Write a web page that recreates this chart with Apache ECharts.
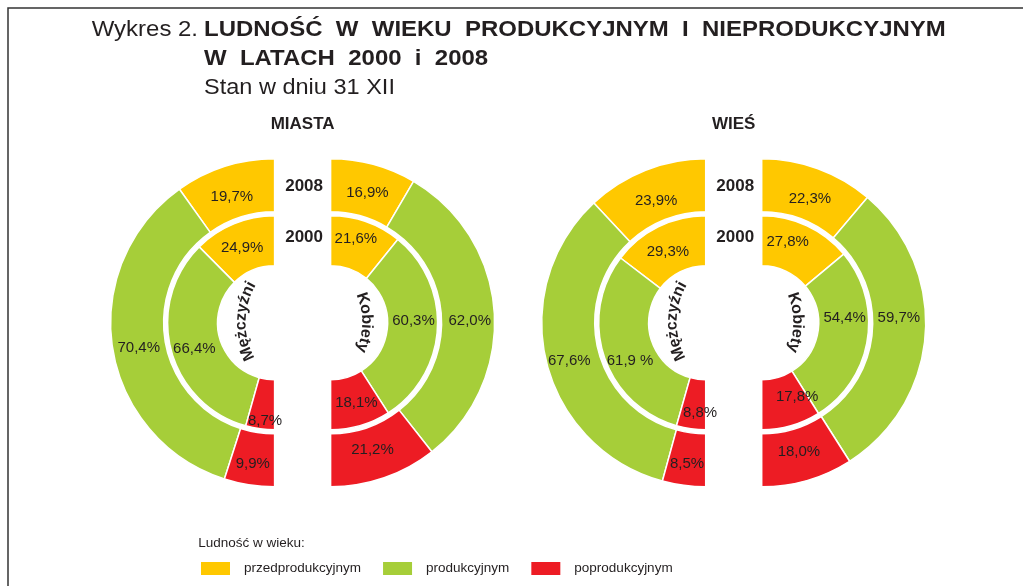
<!DOCTYPE html>
<html><head><meta charset="utf-8">
<script src="https://cdn.jsdelivr.net/npm/echarts@6/dist/echarts.min.js"></script>
<style>html,body{margin:0;padding:0;background:#fff}#c{width:1023px;height:586px}</style>
</head><body><div id="c"></div>
<script>
// ---- data ----
const categories = ['przedprodukcyjnym', 'produkcyjnym', 'poprodukcyjnym'];
const groupNames = ['MIASTA', 'WIEŚ'];
const yearLabels = ['2008', '2000'];
const sexLabels = ['Mężczyźni', 'Kobiety'];
const miastaMen2008 = [19.7, 70.4, 9.9];
const miastaMen2000 = [24.9, 66.4, 8.7];
const miastaWomen2008 = [16.9, 62.0, 21.2];
const miastaWomen2000 = [21.6, 60.3, 18.1];
const wiesMen2008 = [23.9, 67.6, 8.5];
const wiesMen2000 = [29.3, 61.9, 8.8];
const wiesWomen2008 = [22.3, 59.7, 18.0];
const wiesWomen2000 = [27.8, 54.4, 17.8];

// ---- styles / layout ----
const COLORS = ['#FFC800', '#A6CE39', '#ED1C24'];
const TXT = '#231F20';
const FONT = '"Liberation Sans", Arial, Helvetica, sans-serif';
const groupMid = [302.6, 733.7];
const halfGap = 28;
const CY = 322.8;
const ringRadius = { '2008': [111, 164], '2000': [57, 107] };

// label nudges [dx, dy] for hand-placed labels in the original
const nudges = {
  'MIASTA-0-2008': [[0, 8], [3, 4], [0, 2]],
  'MIASTA-0-2000': [[0, 4], [2, 5], [2, 14]],
  'MIASTA-1-2008': [[0, 6], [-1, 8], [-4, -6]],
  'MIASTA-1-2000': [[-3, -4], [-2, -7], [2, -2]],
  'WIEŚ-0-2008': [[2, 9], [0, 4], [0, 2]],
  'WIEŚ-0-2000': [[0, 5], [5, 11], [6, 6]],
  'WIEŚ-1-2008': [[0, 8], [-3, -14], [-2, -6]],
  'WIEŚ-1-2000': [[-10, -4], [-1, -18], [12, -8]]
};
const spacedLabels = { 'WIEŚ-0-2000': [1] };

const seriesValues = {
  'MIASTA-0-2008': miastaMen2008, 'MIASTA-0-2000': miastaMen2000,
  'MIASTA-1-2008': miastaWomen2008, 'MIASTA-1-2000': miastaWomen2000,
  'WIEŚ-0-2008': wiesMen2008, 'WIEŚ-0-2000': wiesMen2000,
  'WIEŚ-1-2008': wiesWomen2008, 'WIEŚ-1-2000': wiesWomen2000
};

const series = [];
groupNames.forEach((g, gi) => {
  [0, 1].forEach(s => {
    yearLabels.forEach(y => {
      const key = g + '-' + s + '-' + y;
      const vals = seriesValues[key];
      series.push({
        type: 'pie',
        name: key,
        center: [groupMid[gi] + (s ? halfGap : -halfGap), CY],
        radius: ringRadius[y],
        startAngle: 90,
        endAngle: s ? -90 : 270,
        clockwise: s === 1,
        silent: true,
        animation: false,
        emphasis: { scale: false },
        itemStyle: { borderColor: '#fff', borderWidth: 1.5 },
        label: {
          show: true, position: 'inside', color: TXT, fontSize: 15, fontFamily: FONT,
          textBorderWidth: 0,
          formatter: p => {
            const sp = (spacedLabels[key] || []).indexOf(p.dataIndex) >= 0 ? ' ' : '';
            return p.value.toFixed(1).replace('.', ',') + sp + '%';
          }
        },
        labelLine: { show: false },
        labelLayout: p => {
          const n = nudges[key][p.dataIndex];
          return { dx: n[0], dy: n[1] };
        },
        data: vals.map((v, i) => ({ name: categories[i], value: v, itemStyle: { color: COLORS[i] } }))
      });
    });
  });
});

// ---- curved text helper ----
const mctx = document.createElement('canvas').getContext('2d');
function arcText(text, cx, cy, R, midDeg, spacing, font) {
  mctx.font = font;
  const chars = Array.from(text);
  const widths = chars.map(c => mctx.measureText(c).width);
  const total = widths.reduce((a, b) => a + b, 0) + spacing * (chars.length - 1);
  let s = -total / 2;
  const mid = midDeg * Math.PI / 180;
  return chars.map((c, i) => {
    const cs = s + widths[i] / 2;
    s += widths[i] + spacing;
    const th = mid + cs / R;
    return {
      type: 'text', silent: true,
      x: cx + R * Math.cos(th), y: cy + R * Math.sin(th),
      rotation: -(th + Math.PI / 2),
      style: { text: c, font: font, fill: TXT, textAlign: 'center', textVerticalAlign: 'middle' }
    };
  });
}

const graphics = [
  { type: 'rect', silent: true, z: -1, shape: { x: 8, y: 8, width: 1200, height: 800 },
    style: { fill: 'none', stroke: '#333', lineWidth: 1.5 } },
  { type: 'text', x: 91.7, y: 30.3, scaleX: 1.075, silent: true,
    style: { text: 'Wykres 2.', font: '22.3px ' + FONT, fill: TXT, textVerticalAlign: 'middle' } },
  { type: 'text', x: 204, y: 30.3, scaleX: 1.075, silent: true,
    style: { text: 'LUDNOŚĆ  W  WIEKU  PRODUKCYJNYM  I  NIEPRODUKCYJNYM', font: 'bold 22.3px ' + FONT, fill: TXT, textVerticalAlign: 'middle' } },
  { type: 'text', x: 204, y: 59.3, scaleX: 1.075, silent: true,
    style: { text: 'W  LATACH  2000  i  2008', font: 'bold 22.3px ' + FONT, fill: TXT, textVerticalAlign: 'middle' } },
  { type: 'text', x: 204, y: 88.3, scaleX: 1.055, silent: true,
    style: { text: 'Stan w dniu 31 XII', font: '22.3px ' + FONT, fill: TXT, textVerticalAlign: 'middle' } },
  { type: 'text', x: 198.3, y: 543.3, silent: true,
    style: { text: 'Ludność w wieku:', font: '13.5px ' + FONT, fill: TXT, textVerticalAlign: 'middle' } }
];
groupNames.forEach((g, gi) => {
  const m = groupMid[gi];
  graphics.push({ type: 'text', x: m, y: 124, silent: true,
    style: { text: g, font: 'bold 17px ' + FONT, fill: TXT, textAlign: 'center', textVerticalAlign: 'middle' } });
  graphics.push({ type: 'text', x: m + 1.5, y: 186, silent: true,
    style: { text: yearLabels[0], font: 'bold 17px ' + FONT, fill: TXT, textAlign: 'center', textVerticalAlign: 'middle' } });
  graphics.push({ type: 'text', x: m + 1.5, y: 237.7, silent: true,
    style: { text: yearLabels[1], font: 'bold 17px ' + FONT, fill: TXT, textAlign: 'center', textVerticalAlign: 'middle' } });
  const f = 'bold 16px ' + FONT;
  arcText(sexLabels[0], m + 15.5, CY - 0.5, 77, 181, 0.3, f).forEach(e => graphics.push(e));
  arcText(sexLabels[1], m - 10.5, CY - 0.3, 74.5, 0, 0.3, f).forEach(e => graphics.push(e));
});

const chart = echarts.init(document.getElementById('c'), null, { renderer: 'canvas' });
chart.setOption({
  animation: false,
  backgroundColor: '#fff',
  legend: {
    left: 199, top: 560, padding: 0, itemWidth: 31, itemHeight: 15, itemGap: 20,
    icon: 'rect', selectedMode: false, data: categories,
    textStyle: { fontSize: 13.5, color: TXT, fontFamily: FONT, padding: [0, 0, 0, 8] }
  },
  graphic: { elements: graphics },
  series: series
});
</script></body></html>
